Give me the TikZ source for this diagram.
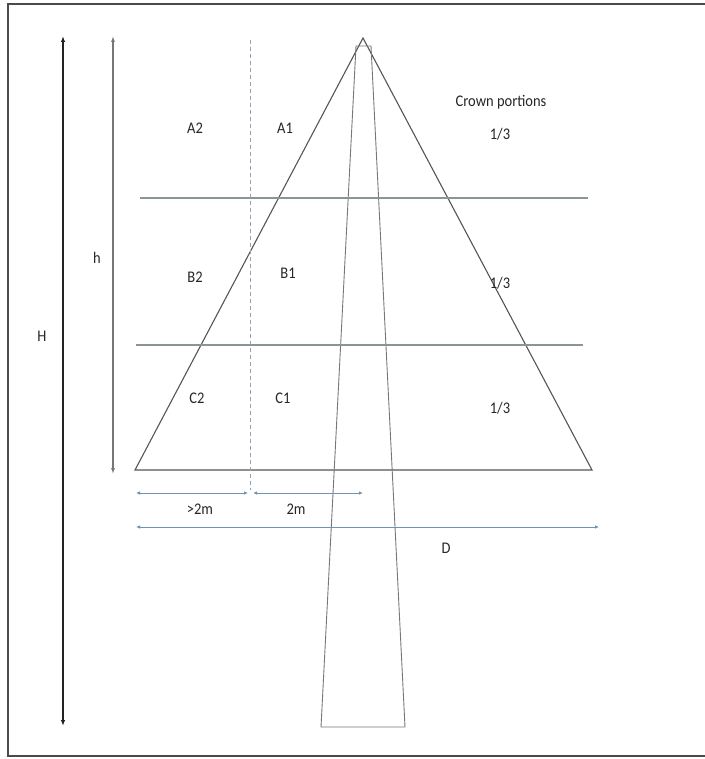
\documentclass[tikz,border=0pt]{standalone}
\usepackage{fontspec}
\setmainfont{Carlito}
\usetikzlibrary{arrows.meta}
\definecolor{framec}{HTML}{4A4A4A}
\definecolor{treec}{HTML}{555555}
\definecolor{levelc}{HTML}{8A9696}
\definecolor{dimc}{HTML}{6F93B0}
\definecolor{dashc}{HTML}{8FA3B5}
\definecolor{harrow}{HTML}{222222}
\definecolor{smallh}{HTML}{777777}
\tikzset{
  lbl/.style={font=\fontsize{14.5}{17}\selectfont, text=black!85, inner sep=0pt, yscale=1.12, transform shape},
  treeline/.style={draw=treec, line width=1.1pt},
  trunkline/.style={draw=treec!80, line width=0.9pt},
  levelline/.style={draw=levelc, line width=1.2pt},
  dimline/.style={draw=dimc, line width=1pt, {Latex[length=4pt,width=3.5pt]}-{Latex[length=4pt,width=3.5pt]}},
  bigH/.style={draw=harrow, line width=1.3pt, {Latex[length=6pt,width=4.5pt]}-{Latex[length=6pt,width=4.5pt]}},
  smallhs/.style={draw=smallh, line width=1.1pt, {Latex[length=6pt,width=4pt]}-{Latex[length=6pt,width=4pt]}},
}
\begin{document}
\begin{tikzpicture}[x=1pt,y=-1pt]
\useasboundingbox (0,0) rectangle (704,759);
% frame
\draw[framec, line width=2.6pt] (708,4) -- (8,4) -- (8,756) -- (708,756);
% crown triangle
\coordinate (apex) at (363,38);
\coordinate (bl) at (135,470);
\coordinate (br) at (592,470);
\draw[treeline] (apex) -- (br) -- (bl) -- cycle;
% trunk
\coordinate (tl) at (356,46);
\coordinate (tr) at (371,46);
\coordinate (tbr) at (405,727);
\coordinate (tbl) at (321,727);
\draw[trunkline] (tl) -- (tr) -- (tbr) -- (tbl) -- cycle;
% level lines
\coordinate (l1a) at (140,198); \coordinate (l1b) at (588,198);
\coordinate (l2a) at (136,345); \coordinate (l2b) at (583,345);
\draw[levelline] (l1a) -- (l1b);
\draw[levelline] (l2a) -- (l2b);
% dashed 2m line
\coordinate (da) at (250,40); \coordinate (db) at (250,490);
\draw[draw=dashc, line width=0.8pt, dash pattern=on 4pt off 3pt] (da) -- (db);
% height arrows
\coordinate (Ht) at (63,36); \coordinate (Hb) at (63,726);
\draw[bigH] (Ht) -- (Hb);
\coordinate (ht) at (113,36); \coordinate (hb) at (113,474);
\draw[smallhs] (ht) -- (hb);
% dimension arrows
\coordinate (d1a) at (136,493); \coordinate (d1b) at (248,493);
\coordinate (d2a) at (253,493); \coordinate (d2b) at (363,493);
\coordinate (Da) at (136,527); \coordinate (Db) at (599,527);
\draw[dimline] (d1a) -- (d1b);
\draw[dimline] (d2a) -- (d2b);
\draw[dimline] (Da) -- (Db);
% labels
\node[lbl] (A2) at (195,128) {A2};
\node[lbl] (A1) at (285,128) {A1};
\node[lbl] (cp) at (501,102) {Crown portions};
\node[lbl] (p1) at (500,134) {1/3};
\node[lbl] (hl) at (97,258) {h};
\node[lbl] (B2) at (195,277) {B2};
\node[lbl] (B1) at (288,273) {B1};
\node[lbl] (p2) at (500,283) {1/3};
\node[lbl] (Hl) at (42,336) {H};
\node[lbl] (C2) at (197,398) {C2};
\node[lbl] (C1) at (283,398) {C1};
\node[lbl] (p3) at (500,408) {1/3};
\node[lbl] (gt2) at (200,509) {>2m};
\node[lbl] (m2) at (296,509) {2m};
\node[lbl] (Dl) at (446,548) {D};
\end{tikzpicture}
\end{document}
